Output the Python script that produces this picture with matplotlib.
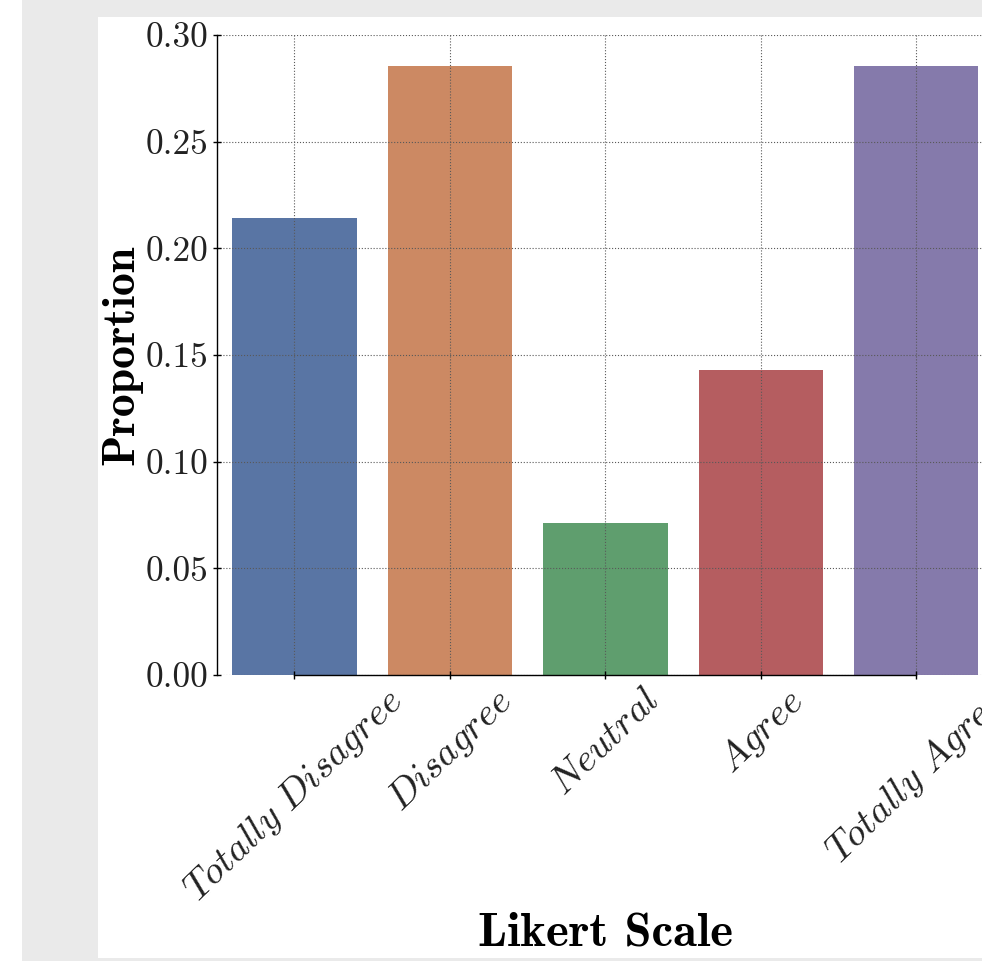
import matplotlib
matplotlib.use("Agg")
import matplotlib.pyplot as plt
from matplotlib.patches import Rectangle
import seaborn as sns

levels = ['Totally Disagree', 'Disagree', 'Neutral', 'Agree', 'Totally Agree']
proportions = [0.2143, 0.2857, 0.0714, 0.1429, 0.2857]
yticks = [0.00, 0.05, 0.10, 0.15, 0.20, 0.25, 0.30]

plt.rcParams['font.family'] = 'cmr10'
plt.rcParams['mathtext.fontset'] = 'cm'
plt.rcParams['axes.formatter.use_mathtext'] = True
plt.rcParams['text.color'] = '#222222'
plt.rcParams['xtick.labelcolor'] = '#222222'
plt.rcParams['ytick.labelcolor'] = '#222222'

W, H = 982, 961
fig = plt.figure(figsize=(W / 100, H / 100), dpi=100)

# page frame behind the figure
fig.patches.append(Rectangle((22 / W, 0), 1, 1, transform=fig.transFigure,
                             facecolor='#eaeaea', edgecolor='none', zorder=-2))
fig.patches.append(Rectangle((98 / W, 3 / H), 1, (958 - 17) / H, transform=fig.transFigure,
                             facecolor='white', edgecolor='none', zorder=-1))

ax = fig.add_axes([216.7 / W, (H - 675) / H, (994 - 216.7) / W, (675 - 35) / H])
ax.patch.set_alpha(0)

sns.barplot(x=levels, y=proportions, hue=levels, palette='deep', legend=False, ax=ax)

ax.set_ylim(0, 0.30)
ax.set_yticks(yticks)
ax.set_yticklabels(['%.2f' % t for t in yticks], fontsize=25.5)
ax.set_xticks(range(len(levels)))
ax.set_xticklabels([r'$%s$' % s.replace(' ', r'\ ') for s in levels],
                   rotation=44, fontsize=28)

ax.set_axisbelow(False)
ax.grid(True, linestyle=':', color='0.35', linewidth=0.8)
ax.tick_params(direction='inout', length=6, width=1, color='black')
ax.tick_params(axis='y', pad=3)
ax.tick_params(axis='x', pad=2)

ax.set_xlabel('Likert Scale', family='cmb10', fontsize=35, va='baseline')
ax.xaxis.set_label_coords(0.5, -0.422)
ax.set_ylabel('Proportion', family='cmb10', fontsize=33, labelpad=2)

sns.despine(ax=ax, trim=True)
for s in ('left', 'bottom'):
    ax.spines[s].set_color('black')
    ax.spines[s].set_linewidth(1)

fig.savefig('out.png', dpi=100)
